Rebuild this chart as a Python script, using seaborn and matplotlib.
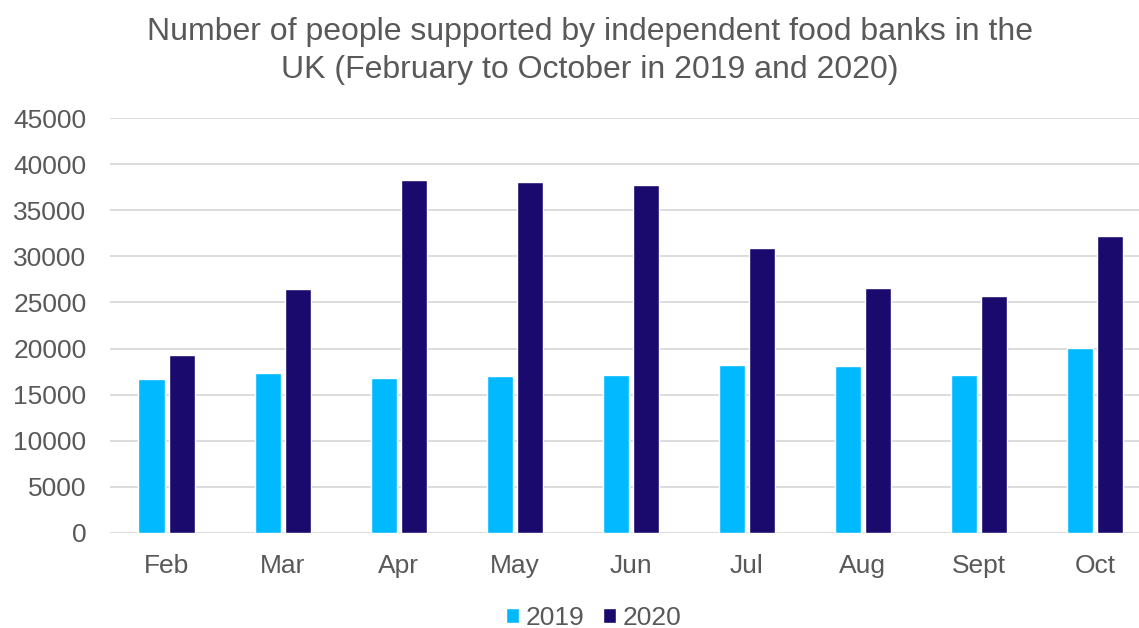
import matplotlib
matplotlib.use("Agg")
import matplotlib.pyplot as plt
import seaborn as sns
import pandas as pd

# Values
months = ["Feb", "Mar", "Apr", "May", "Jun", "Jul", "Aug", "Sept", "Oct"]
people_2019 = [16700, 17300, 16850, 17050, 17150, 18200, 18150, 17150, 20050]
people_2020 = [19300, 26450, 38250, 38100, 37700, 30900, 26600, 25650, 32250]

data = pd.DataFrame({
    "Month": months * 2,
    "People": people_2019 + people_2020,
    "Year": ["2019"] * len(months) + ["2020"] * len(months),
})

sns.set_style("white")
plt.rcParams["font.family"] = ["Liberation Sans", "DejaVu Sans"]
grey = "#595959"

fig = plt.figure(figsize=(11.39, 6.28), dpi=100)
ax = fig.add_axes([110 / 1139, 1 - 533 / 628, 1029 / 1139, 415 / 628])

sns.barplot(
    data=data, x="Month", y="People", hue="Year",
    palette={"2019": "#00B9FF", "2020": "#1B0A6E"}, saturation=1,
    width=0.52, gap=0.12, ax=ax, legend=True,
)

ax.set_ylim(0, 45000)
ax.set_xlim(-0.49, 8.38)
ax.set_yticks(range(0, 45001, 5000))
ax.yaxis.grid(True, color="#D9D9D9", linewidth=1.3)
ax.set_axisbelow(True)
for s in ax.spines.values():
    s.set_visible(False)
ax.tick_params(axis="y", length=0, pad=17, labelsize=19, labelcolor=grey)
ax.tick_params(axis="x", length=0, pad=15, labelsize=19, labelcolor=grey)
ax.set_xlabel("")
ax.set_ylabel("")

ax.legend(
    loc="center", bbox_to_anchor=(594 / 1139, 10 / 628),
    bbox_transform=fig.transFigure, ncol=2, frameon=False,
    fontsize=19, labelcolor=grey, handlelength=0.5, handleheight=0.5,
    handletextpad=0.25, columnspacing=0.7,
)

fig.text(590 / 1139, 1 - 51 / 628,
         "Number of people supported by independent food banks in the\n"
         "UK (February to October in 2019 and 2020)",
         ha="center", va="center", fontsize=23, color=grey, linespacing=1.35)

fig.savefig("out.png", dpi=100)
